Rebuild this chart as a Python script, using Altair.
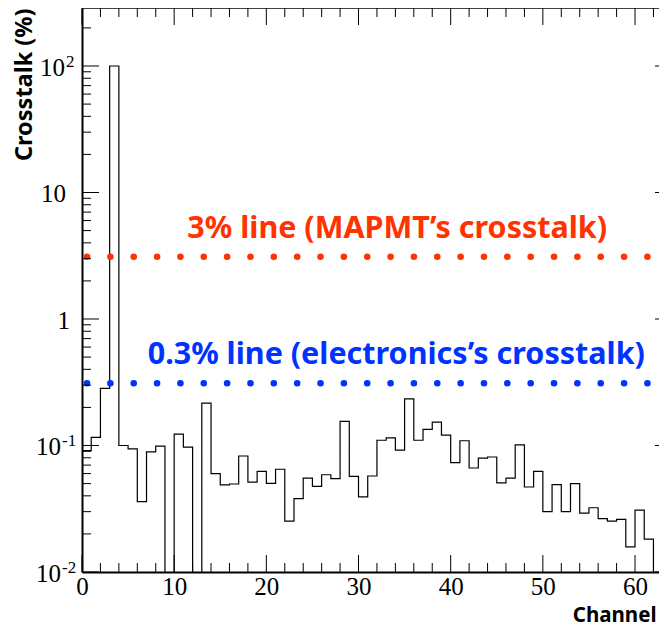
import altair as alt
import pandas as pd

# ---------------- data ----------------
channels = list(range(64))
crosstalk = [
    0.091, 0.116, 0.283, 100.0, 0.100, 0.094, 0.036, 0.089, 0.099, 0.0,
    0.123, 0.097, 0.0, 0.216, 0.060, 0.0488, 0.0496, 0.0826, 0.0514, 0.0625,
    0.0502, 0.0649, 0.0252, 0.038, 0.0553, 0.0476, 0.0587, 0.0547, 0.155, 0.0571,
    0.0392, 0.0574, 0.110, 0.115, 0.092, 0.234, 0.110, 0.134, 0.153, 0.121,
    0.0731, 0.109, 0.0664, 0.0796, 0.0811, 0.0506, 0.0553, 0.101, 0.047, 0.0625,
    0.030, 0.049, 0.030, 0.0499, 0.0292, 0.0322, 0.0264, 0.0252, 0.0261, 0.0158,
    0.0308, 0.0182, 0.0, 0.0132,
]

x_major = [0, 10, 20, 30, 40, 50, 60]
x_minor = [2, 4, 6, 8, 12, 14, 16, 18, 22, 24, 26, 28, 32, 34, 36, 38,
           42, 44, 46, 48, 52, 54, 56, 58, 62]
y_major = [0.01, 0.1, 1, 10, 100]
y_minor = [k * d for d in [0.01, 0.1, 1, 10] for k in range(2, 10)] + [200]
y_label_base = ["10", "10", "1", "10", "10"]
y_label_exp = ["-2", "-1", "", "", "2"]

ref_levels = [3.0, 0.3]
ref_texts = ["3% line (MAPMT\u2019s crosstalk)", "0.3% line (electronics\u2019s crosstalk)"]
ref_colors = ["#ff3300", "#0033ff"]

# ---------------- layout constants ----------------
PX_PER_UNIT = 9.217
W, H = 577, 564
XMAX = W / PX_PER_UNIT
W_FRAME = 590  # where the (cropped) right frame would sit
YMIN, YMAX = 0.01, 287.4
FLOOR = 1e-5  # empty bins drawn down past the axis

xs = alt.Scale(domain=[0, XMAX], nice=False, zero=False)
ys = alt.Scale(type="log", domain=[YMIN, YMAX], nice=False)

hist_df = pd.DataFrame({
    "x": channels + [64],
    "y": [v if v > 0 else FLOOR for v in crosstalk] + [crosstalk[-1] if crosstalk[-1] > 0 else FLOOR],
})

x_axis = alt.Axis(values=x_major, ticks=False, grid=False, domain=True,
                  domainColor="black", domainWidth=2,
                  labelFont="Liberation Serif", labelFontSize=25, labelColor="black",
                  labelPadding=2, labelFlush=False,
                  title="Channel", titleFont="Noto Sans", titleFontWeight="bold",
                  titleFontSize=20.5, titleColor="black", titleAlign="right",
                  titleX=W - 3, titleY=49, titleBaseline="alphabetic")
y_axis = alt.Axis(labels=False, ticks=False, grid=False, domain=True,
                  domainColor="black", domainWidth=2,
                  title="Crosstalk (%)", titleFont="Noto Sans", titleFontWeight="bold",
                  titleFontSize=23.5, titleColor="black", titleAngle=270,
                  titleAlign="right", titleBaseline="middle", titleX=-58, titleY=0)

hist = alt.Chart(hist_df).mark_line(
    interpolate="step-after", color="black", strokeWidth=1.2, clip=True
).encode(
    x=alt.X("x:Q", scale=xs, axis=x_axis),
    y=alt.Y("y:Q", scale=ys, axis=y_axis),
)

# reference dotted lines
ref_df = pd.DataFrame({
    "x0": [0.54, 0.54], "x1": [XMAX + 2, XMAX + 2],
    "y": ref_levels, "c": ref_colors, "t": ref_texts,
    "xt": [34.2, 34.1],
})
dots = alt.Chart(ref_df).mark_rule(
    strokeDash=[0.1, 23.25], strokeCap="round", strokeWidth=6.5, clip=True, yOffset=-2
).encode(
    x=alt.X("x0:Q", scale=xs), x2="x1:Q",
    y=alt.Y("y:Q", scale=ys),
    color=alt.Color("c:N", scale=None),
)
labels = alt.Chart(ref_df).mark_text(
    font="Noto Sans", fontWeight="bold", fontSize=30.5, align="center",
    baseline="alphabetic", dy=-21
).encode(
    x=alt.X("xt:Q", scale=xs),
    y=alt.Y("y:Q", scale=ys),
    text="t:N",
    color=alt.Color("c:N", scale=None),
)

# inner ticks
xmaj_df = pd.DataFrame({"x": x_major})
xmin_df = pd.DataFrame({"x": x_minor})
ymaj_df = pd.DataFrame({"y": y_major})
ymin_df = pd.DataFrame({"y": y_minor})

def xticks(df, length):
    bottom = alt.Chart(df).mark_rule(color="black", strokeWidth=1).encode(
        x=alt.X("x:Q", scale=xs), y=alt.value(H), y2=alt.value(H - length))
    top = alt.Chart(df).mark_rule(color="black", strokeWidth=1).encode(
        x=alt.X("x:Q", scale=xs), y=alt.value(0), y2=alt.value(length))
    return [bottom, top]

def yticks_left(df, length):
    return [alt.Chart(df).mark_rule(color="black", strokeWidth=1).encode(
        y=alt.Y("y:Q", scale=ys), x=alt.value(0), x2=alt.value(length))]

right_major = alt.Chart(ymaj_df).mark_rule(color="black", strokeWidth=1).encode(
    y=alt.Y("y:Q", scale=ys), x=alt.value(W_FRAME - 17), x2=alt.value(W))

tick_layers = (xticks(xmaj_df, 17) + xticks(xmin_df, 9)
               + yticks_left(ymaj_df, 17) + yticks_left(ymin_df, 9) + [right_major])

top_line = alt.Chart(pd.DataFrame({"a": [0]})).mark_rule(color="black", strokeWidth=1.5).encode(
    x=alt.value(0), x2=alt.value(W), y=alt.value(0))

# y tick labels (10 with superscript exponent)
ylab_layers = []
for v, b, e in zip(y_major, y_label_base, y_label_exp):
    if e in ("-1", "-2"):
        dx = -21
    elif e == "2":
        dx = -17
    elif b == "1":
        dx = -12
    else:
        dx = -16
    row = pd.DataFrame({"y": [v], "b": [b], "e": [e]})
    ylab_layers.append(
        alt.Chart(row).mark_text(font="Liberation Serif", fontSize=25, align="right",
                                 baseline="alphabetic", dy=10, color="black").encode(
            x=alt.value(dx), y=alt.Y("y:Q", scale=ys), text="b:N"))
    if e:
        ylab_layers.append(
            alt.Chart(row).mark_text(font="Liberation Serif", fontSize=17, align="left",
                                     baseline="alphabetic", dy=1, color="black").encode(
                x=alt.value(dx + 1), y=alt.Y("y:Q", scale=ys), text="e:N"))

chart = alt.layer(
    hist, dots, labels, top_line, *tick_layers, *ylab_layers
).properties(
    width=W, height=H,
    padding={"left": 74, "top": 0, "right": 0, "bottom": 54},
    autosize=alt.AutoSizeParams(type="none"),
    background="white",
).configure_view(stroke=None)

chart.save("out.html", embed_options={"renderer": "svg", "actions": False})
